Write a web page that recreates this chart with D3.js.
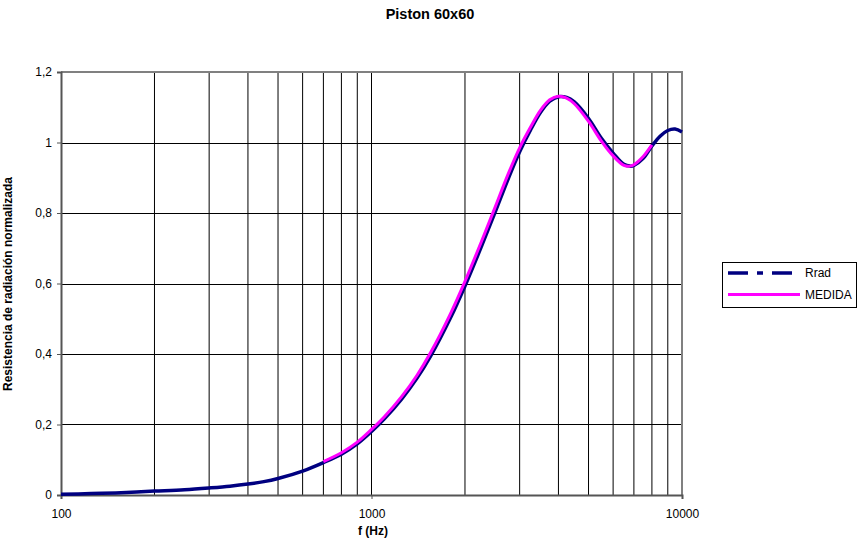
<!DOCTYPE html>
<html>
<head>
<meta charset="utf-8">
<script src="https://cdn.jsdelivr.net/npm/d3@7"></script>
<style>
  html, body { margin: 0; padding: 0; background: #fff; }
  svg { display: block; font-family: "Liberation Sans", Arial, sans-serif; }
</style>
</head>
<body>
<svg id="chart" width="858" height="547"></svg>
<script>
// Radiation resistance of a 60x60 piston: theoretical (Rrad) vs. measured (MEDIDA)
const rradFreq = [100, 125, 150, 200, 250, 300, 350, 400, 450, 500, 600, 700, 800, 900,
  1000, 1100, 1250, 1400, 1550, 1800, 2000, 2250, 2500, 2750, 3000, 3250, 3500, 3750,
  4000, 4250, 4500, 5000, 5500, 6000, 6500, 6800, 7000, 7500, 8000, 8500, 9000, 9500, 10000];
const rradValues = [0.002, 0.004, 0.006, 0.011, 0.015, 0.020, 0.025, 0.031, 0.038, 0.047, 0.068, 0.092, 0.116, 0.145,
  0.180, 0.216, 0.272, 0.331, 0.394, 0.504, 0.593, 0.701, 0.802, 0.895, 0.974, 1.035, 1.085, 1.117,
  1.130, 1.128, 1.115, 1.068, 1.012, 0.970, 0.938, 0.933, 0.935, 0.955, 0.990, 1.018, 1.034, 1.038, 1.030];

const medidaFreq = [700, 800, 900, 1000, 1100, 1250, 1400, 1550, 1800, 2000, 2250, 2500, 2750, 3000,
  3250, 3500, 3750, 4000, 4250, 4500, 5000, 5500, 6000, 6500, 6800, 7000, 7500, 8000];
const medidaValues = [0.095, 0.120, 0.150, 0.186, 0.222, 0.279, 0.339, 0.404, 0.516, 0.606, 0.715, 0.816, 0.909, 0.985,
  1.043, 1.091, 1.121, 1.131, 1.126, 1.110, 1.060, 1.004, 0.962, 0.935, 0.933, 0.937, 0.960, 0.993];

const yTicks = [0, 0.2, 0.4, 0.6, 0.8, 1, 1.2];
const xMajorTicks = [100, 1000, 10000];
const xGridTicks = [200, 300, 400, 500, 600, 700, 800, 900, 1000,
  2000, 3000, 4000, 5000, 6000, 7000, 8000, 9000];

const title = "Piston 60x60";
const xTitle = "f (Hz)";
const yTitle = "Resistencia de radiación normalizada";
const seriesNames = ["Rrad", "MEDIDA"];

const plot = { left: 61, right: 682, top: 72, bottom: 495 };
const svg = d3.select("#chart");

const x = d3.scaleLog().domain([100, 10000]).range([plot.left, plot.right]);
const y = d3.scaleLinear().domain([0, 1.2]).range([plot.bottom, plot.top]);
const fmtY = v => String(+v.toFixed(1)).replace(".", ",");

// vertical grid lines
svg.append("g").selectAll("line").data(xGridTicks).join("line")
  .attr("x1", d => x(d)).attr("x2", d => x(d))
  .attr("y1", plot.top).attr("y2", plot.bottom)
  .attr("stroke", "#000").attr("stroke-width", 1);

// horizontal grid lines
svg.append("g").selectAll("line").data(yTicks.filter(v => v > 0 && v < 1.2)).join("line")
  .attr("x1", plot.left).attr("x2", plot.right)
  .attr("y1", d => Math.round(y(d)) + 0.5).attr("y2", d => Math.round(y(d)) + 0.5)
  .attr("stroke", "#000").attr("stroke-width", 1);

// plot area border (top and right)
svg.append("path")
  .attr("d", `M${plot.left},${plot.top}H${plot.right}V${plot.bottom}`)
  .attr("fill", "none").attr("stroke", "#808080").attr("stroke-width", 2);

// y axis
const yAxis = d3.axisLeft(y).tickValues(yTicks).tickFormat(fmtY).tickSize(4).tickPadding(5);
const gy = svg.append("g").attr("transform", `translate(${plot.left},0)`).call(yAxis);
gy.select(".domain").attr("stroke", "#555").attr("stroke-width", 2);
gy.selectAll(".tick line").attr("stroke", "#555");
gy.selectAll("text").attr("font-size", 12).attr("fill", "#000")
  .attr("font-family", "Liberation Sans, Arial, sans-serif");

// x axis
const xAxis = d3.axisBottom(x).tickValues(xMajorTicks).tickFormat(d3.format("d")).tickSize(4).tickPadding(10);
const gx = svg.append("g").attr("transform", `translate(0,${plot.bottom})`).call(xAxis);
gx.select(".domain").attr("stroke", "#555").attr("stroke-width", 2);
gx.selectAll(".tick line").attr("stroke", "#555");
gx.selectAll("text").attr("font-size", 12).attr("fill", "#000")
  .attr("font-family", "Liberation Sans, Arial, sans-serif");

// series
const line = d3.line().x(d => x(d[0])).y(d => y(d[1])).curve(d3.curveCatmullRom.alpha(0.5));
const rradData = rradFreq.map((f, i) => [f, rradValues[i]]);
const medidaData = medidaFreq.map((f, i) => [f, medidaValues[i]]);

svg.append("path").datum(rradData).attr("d", line)
  .attr("fill", "none").attr("stroke", "#000080").attr("stroke-width", 3.5)
  .attr("stroke-linejoin", "round");
svg.append("path").datum(medidaData).attr("d", line)
  .attr("fill", "none").attr("stroke", "#FF00FF").attr("stroke-width", 3)
  .attr("stroke-linejoin", "round");

// titles
svg.append("text").attr("x", 430).attr("y", 19).attr("text-anchor", "middle")
  .attr("font-size", 14.5).attr("font-weight", "bold").text(title);
svg.append("text").attr("x", 373).attr("y", 535).attr("text-anchor", "middle")
  .attr("font-size", 12).attr("font-weight", "bold").text(xTitle);
svg.append("text").attr("transform", "translate(12,284) rotate(-90)").attr("text-anchor", "middle")
  .attr("font-size", 12).attr("font-weight", "bold").text(yTitle);

// legend
const lg = svg.append("g");
lg.append("rect").attr("x", 722.5).attr("y", 262.5).attr("width", 134).attr("height", 45)
  .attr("fill", "#fff").attr("stroke", "#000").attr("stroke-width", 1);
lg.append("line").attr("x1", 728).attr("x2", 800).attr("y1", 273).attr("y2", 273)
  .attr("stroke", "#000080").attr("stroke-width", 3.5).attr("stroke-dasharray", "20,9,6,9");
lg.append("line").attr("x1", 728).attr("x2", 800).attr("y1", 294.5).attr("y2", 294.5)
  .attr("stroke", "#FF00FF").attr("stroke-width", 3);
lg.selectAll("text").data(seriesNames).join("text")
  .attr("x", 805).attr("y", (d, i) => 277 + i * 21.5)
  .attr("font-size", 12).text(d => d);
</script>
</body>
</html>
